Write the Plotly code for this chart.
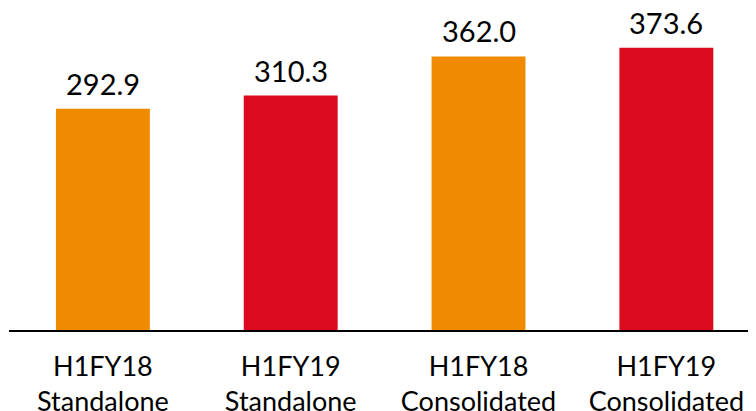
import plotly.graph_objects as go

categories = ["H1FY18<br>Standalone", "H1FY19<br>Standalone", "H1FY18<br>Consolidated", "H1FY19<br>Consolidated"]
values = [292.9, 310.3, 362.0, 373.6]
labels = ["292.9", "310.3", "362.0", "373.6"]
colors = ["#F08A00", "#DC0A1E", "#F08A00", "#DC0A1E"]

FONT = "Lato"

fig = go.Figure(go.Bar(
    x=categories, y=values,
    marker=dict(color=colors, line=dict(width=0)),
    width=0.5, cliponaxis=False, hoverinfo="x+y",
))

for c, v, t in zip(categories, values, labels):
    fig.add_annotation(x=c, y=v, text=t, showarrow=False, yanchor="bottom",
                       yshift=6, font=dict(family=FONT, size=29, color="black"))

fig.update_layout(
    width=756, height=411,
    margin=dict(l=1, r=0, t=0, b=89),
    plot_bgcolor="white", paper_bgcolor="white",
    showlegend=False,
    font=dict(family=FONT, size=27, color="black"),
    xaxis=dict(range=[-0.5, 3.52], showline=True, linecolor="black", linewidth=1.5,
               showgrid=False, ticks="", ticklabelstandoff=12,
               tickfont=dict(family=FONT, size=27, color="black")),
    yaxis=dict(range=[0, 426.2], visible=False, showgrid=False, zeroline=False),
)

fig.write_html("out.html")
